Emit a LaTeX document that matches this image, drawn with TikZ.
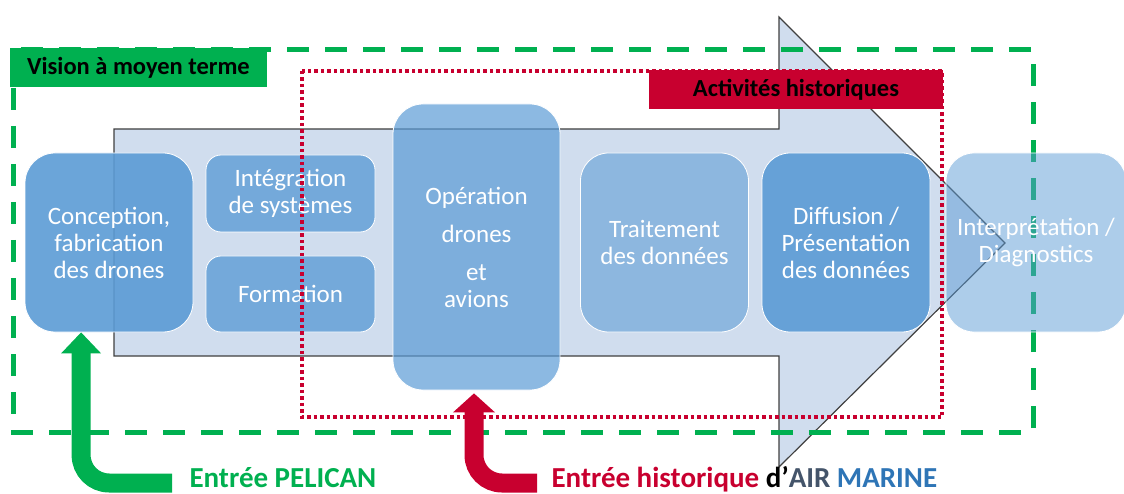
\documentclass[tikz,border=0pt]{standalone}
\usepackage{fontspec}
\setmainfont{Carlito}
\usetikzlibrary{calc}
\definecolor{pgreen}{HTML}{00B050}
\definecolor{pred}{HTML}{C8002F}
\definecolor{pblue}{HTML}{5B9BD5}
\definecolor{arrowfill}{HTML}{D0DDEE}
\definecolor{airgray}{HTML}{44546A}
\definecolor{marineblue}{HTML}{2E75B6}
\begin{document}
\begin{tikzpicture}[x=1pt,y=-1pt,
  stage/.style={draw=white, line width=0.8pt, fill=pblue, text=white, text opacity=1, align=center,
    inner sep=0pt, font=\fontsize{25}{27}\selectfont},
  tag/.style={inner sep=0pt, text=black, font=\bfseries\fontsize{24.5}{28}\selectfont},
  bigarrow/.style={fill=arrowfill, draw=black!75, line width=1.2pt},
  entryline/.style={line width=19pt, rounded corners=28pt},
  entrytext/.style={anchor=base west, font=\bfseries\fontsize{29}{32}\selectfont}]
\useasboundingbox (0,0) rectangle (1124,494);
% big process arrow
\draw[bigarrow] (114,129) -- (779,129) -- (779,17) -- (1005,243) -- (779,467) -- (779,356) -- (114,356) -- cycle;
% stage boxes
\node[stage, fill opacity=0.9, minimum width=168pt, minimum height=179pt, rounded corners=30pt] (conc) at (109,242.5) {Conception,\\fabrication\\des drones};
\node[stage, fill opacity=0.78, minimum width=169pt, minimum height=77pt, rounded corners=15pt] (integ) at (290.5,193.5) {Intégration\\de systèmes};
\node[stage, fill opacity=0.78, minimum width=169pt, minimum height=76pt, rounded corners=15pt] (form) at (290.5,294) {Formation};
\node[stage, fill opacity=0.7, minimum width=167pt, minimum height=286pt, rounded corners=30pt] (oper) at (476.5,247) {Opération\\[11pt]drones\\[11pt]et\\avions};
\node[stage, fill opacity=0.57, minimum width=168pt, minimum height=179pt, rounded corners=28pt] (trait) at (664.5,242.5) {Traitement\\des données};
\node[stage, fill opacity=0.9, minimum width=168pt, minimum height=179pt, rounded corners=28pt] (diff) at (846,242.5) {Diffusion /\\Présentation\\des données};
% frames
\draw[pgreen, line width=5pt, dash pattern=on 22pt off 16pt] (13,50) rectangle (1033,432);
\draw[pred, line width=3.5pt, dash pattern=on 3.5pt off 3pt] (302,71) rectangle (942,417);
\node[stage, fill opacity=0.5, minimum width=180pt, minimum height=179pt, rounded corners=28pt] (interp) at (1036,242.5) {Interprétation /\\Diagnostics};
% labels
\node[tag, fill=pgreen, minimum width=257pt, minimum height=39pt] (vision) at (138.5,67.5) {Vision à moyen terme};
\node[tag, fill=pred, minimum width=294pt, minimum height=39pt] (hist) at (796,89.5) {Activités historiques};
% entry arrows
\coordinate (gtip) at ($(conc.south west)+(56.5,0)$);
\coordinate (gend) at (172,483);
\draw[pgreen, entryline] (gend) -| ($(gtip)+(0,20)$);
\fill[pgreen] (gtip) -- ($(gtip)+(-20,21)$) -- ($(gtip)+(20,21)$) -- cycle;
\coordinate (rtip) at ($(oper.south)+(-2.5,3)$);
\coordinate (rend) at (537,483);
\draw[pred, entryline] (rend) -| ($(rtip)+(0,18)$);
\fill[pred] (rtip) -- ($(rtip)+(-21,19)$) -- ($(rtip)+(21,19)$) -- cycle;
\node[entrytext, text=pgreen] (pel) at (186,487) {Entrée PELICAN};
\node[entrytext] (air) at (548,487) {\textcolor{pred}{Entrée historique} d’\textcolor{airgray}{AIR} \textcolor{marineblue}{MARINE}};
\end{tikzpicture}
\end{document}
